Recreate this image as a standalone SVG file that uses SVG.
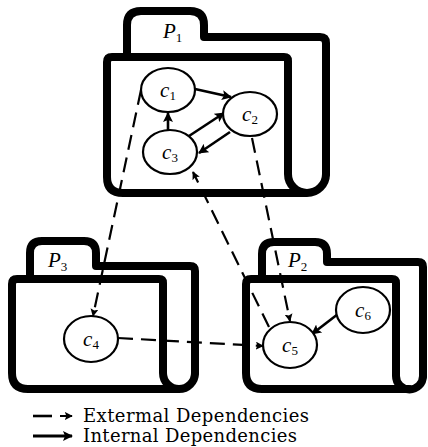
<svg xmlns="http://www.w3.org/2000/svg" width="428" height="447" viewBox="0 0 428 447">
<defs>
<style>
.folder{fill:none;stroke:#000;stroke-width:8;stroke-linejoin:round;stroke-linecap:round}
.node{fill:#fff;stroke:#000;stroke-width:2.2}
.int{fill:none;stroke:#000;stroke-width:2.6}
.ext{fill:none;stroke:#000;stroke-width:2.2;stroke-dasharray:15 8}
</style>
<marker id="ah" viewBox="0 0 10 10" refX="9" refY="5" markerWidth="10" markerHeight="10" markerUnits="userSpaceOnUse" orient="auto">
<path d="M0,0 L10,5 L0,10 L2,5 Z" fill="#000"/>
</marker>
<marker id="ahd" viewBox="0 0 10 10" refX="9" refY="5" markerWidth="8" markerHeight="8" markerUnits="userSpaceOnUse" orient="auto">
<path d="M0,0 L10,5 L0,10 L2,5 Z" fill="#000"/>
</marker>
</defs>
<rect width="428" height="447" fill="#fff"/>

<g font-family="Liberation Serif, Times New Roman, DejaVu Serif, serif" font-style="italic" font-size="21" fill="#000">
<g id="P1">
<path class="folder" d="M127,57 V25 Q127,11 141,11 H190 Q204,11 204,25 V37 H320 Q326,37 326,43 V174"/>
<path class="folder" d="M307,193 H123 Q107,193 107,177 V62 Q107,57 112,57 H284 Q288,57 288,61 V174 A19,19 0 0 0 326,174"/>
<text x="163" y="38">P<tspan font-size="13" font-style="normal" dy="4">1</tspan></text>
</g>

<g id="P3">
<path class="folder" d="M30,279 V253 Q30,241 42,241 H84 Q96,241 96,253 V266 H190 Q195,266 195,271 V373"/>
<path class="folder" d="M179,389 H28 Q12,389 12,373 V284 Q12,279 17,279 H159 Q163,279 163,283 V373 A16,16 0 0 0 195,373"/>
<text x="48" y="267">P<tspan font-size="13" font-style="normal" dy="4">3</tspan></text>
</g>

<g id="P2">
<path class="folder" d="M262,279 V254 Q262,242 274,242 H315 Q327,242 327,254 V262 H418 Q423,262 423,267 V376"/>
<path class="folder" d="M409,389 H262 Q246,389 246,373 V284 Q246,279 251,279 H392 Q396,279 396,283 V376 A13.5,13.5 0 0 0 423,376"/>
<text x="288" y="267">P<tspan font-size="13" font-style="normal" dy="4">2</tspan></text>
</g>

<g id="connectors">
<line class="int" x1="195" y1="89" x2="231" y2="97" marker-end="url(#ah)"/>
<line class="int" x1="168" y1="131" x2="168" y2="113" marker-end="url(#ah)"/>
<line class="int" x1="189" y1="136" x2="224" y2="113" marker-end="url(#ah)"/>
<line class="int" x1="230" y1="132" x2="199" y2="153" marker-end="url(#ah)"/>
<line class="int" x1="338" y1="314" x2="312" y2="334" marker-end="url(#ah)"/>
<line class="ext" x1="141" y1="90" x2="93" y2="316" marker-end="url(#ahd)"/>
<line class="ext" x1="252" y1="138" x2="290" y2="321" marker-end="url(#ahd)"/>
<line class="ext" x1="269" y1="327" x2="193" y2="172" marker-end="url(#ahd)"/>
<line class="ext" x1="118" y1="338" x2="263" y2="346" marker-end="url(#ahd)"/>
</g>

<g id="c1"><ellipse class="node" cx="168" cy="90" rx="27" ry="22"/><text x="168" y="97" text-anchor="middle">c<tspan font-size="13" font-style="normal" dy="3">1</tspan></text></g>
<g id="c2"><ellipse class="node" cx="250" cy="114" rx="27" ry="22"/><text x="250" y="121" text-anchor="middle">c<tspan font-size="13" font-style="normal" dy="3">2</tspan></text></g>
<g id="c3"><ellipse class="node" cx="170" cy="152" rx="27" ry="22"/><text x="170" y="159" text-anchor="middle">c<tspan font-size="13" font-style="normal" dy="3">3</tspan></text></g>
<g id="c4"><ellipse class="node" cx="91" cy="339" rx="27" ry="23"/><text x="91" y="346" text-anchor="middle">c<tspan font-size="13" font-style="normal" dy="3">4</tspan></text></g>
<g id="c5"><ellipse class="node" cx="290" cy="345" rx="27" ry="23"/><text x="290" y="352" text-anchor="middle">c<tspan font-size="13" font-style="normal" dy="3">5</tspan></text></g>
<g id="c6"><ellipse class="node" cx="363" cy="310" rx="27" ry="23"/><text x="363" y="317" text-anchor="middle">c<tspan font-size="13" font-style="normal" dy="3">6</tspan></text></g>
</g>

<g id="legend" font-family="DejaVu Serif, Liberation Serif, serif" font-size="18" fill="#000">
<line x1="33" y1="416" x2="52" y2="416" stroke="#000" stroke-width="2.6"/>
<line x1="60" y1="416" x2="72" y2="416" stroke="#000" stroke-width="2" marker-end="url(#ahd)"/>
<text x="83" y="422" textLength="226" lengthAdjust="spacing">Extermal Dependencies</text>
<line x1="33" y1="436" x2="72" y2="436" stroke="#000" stroke-width="3" marker-end="url(#ah)"/>
<text x="83" y="442" textLength="214" lengthAdjust="spacing">Internal Dependencies</text>
</g>
</svg>
